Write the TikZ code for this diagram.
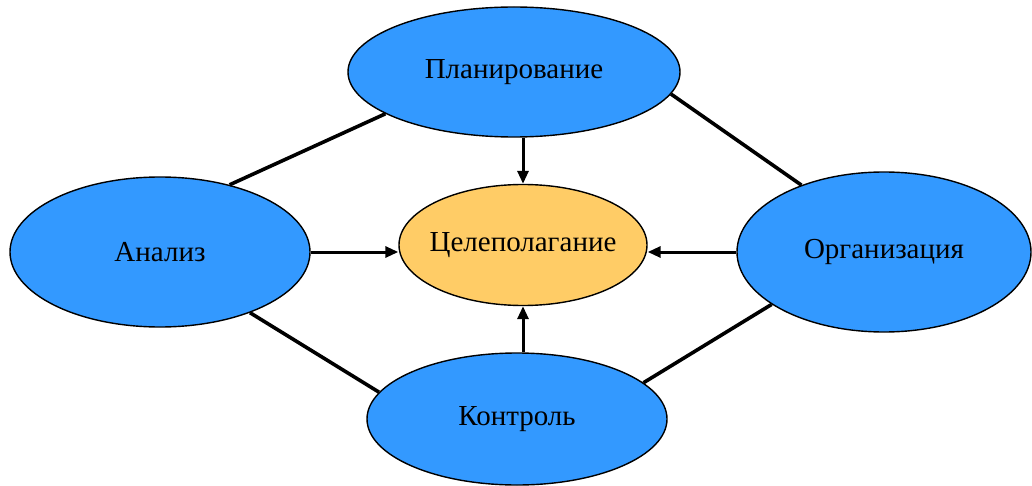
\documentclass[tikz,border=0pt]{standalone}
\usepackage{fontspec}
\setmainfont{Liberation Serif}
\usetikzlibrary{shapes.geometric,arrows.meta}
\definecolor{blobblue}{RGB}{51,153,255}
\definecolor{goalorange}{RGB}{255,204,102}

\begin{document}
\begin{tikzpicture}[x=1pt,y=-1pt,
  blob/.style={ellipse, draw, line width=1.4pt, fill=blobblue, inner sep=0pt,
    font=\fontsize{29}{31}\selectfont},
  link/.style={line width=3.6pt},
  arr/.style={line width=3pt, -{Triangle[length=13pt,width=11pt]}}]
  \useasboundingbox (0,0) rectangle (1032,486);

  \node[blob, minimum width=332pt, minimum height=130pt] (P) at (514,72) {Планирование};
  \node[blob, minimum width=300pt, minimum height=150pt] (A) at (160,252) {Анализ};
  \node[blob, minimum width=294pt, minimum height=160pt] (O) at (884,252) {Организация};
  \node[blob, minimum width=300pt, minimum height=132pt] (K) at (517,419) {Контроль};
  \node[blob, fill=goalorange, inner xsep=-20pt, minimum width=248pt, minimum height=121pt] (T) at (523,245) {Целеполагание};

  % связи по кругу
  \draw[link] (A.44) -- (P.198);
  \draw[link] (P.352) -- (O.141);
  \draw[link] (A.326) -- (K.169);
  \draw[link] (K.16) -- (O.205);

  % стрелки к центру
  \draw[arr] (P.south -| T.north) -- (T.north);
  \draw[arr] (K.north -| T.south) -- (T.south);
  \draw[arr] (A.east) -- (A.east -| T.west);
  \draw[arr] (O.west) -- (O.west -| T.east);
\end{tikzpicture}
\end{document}
